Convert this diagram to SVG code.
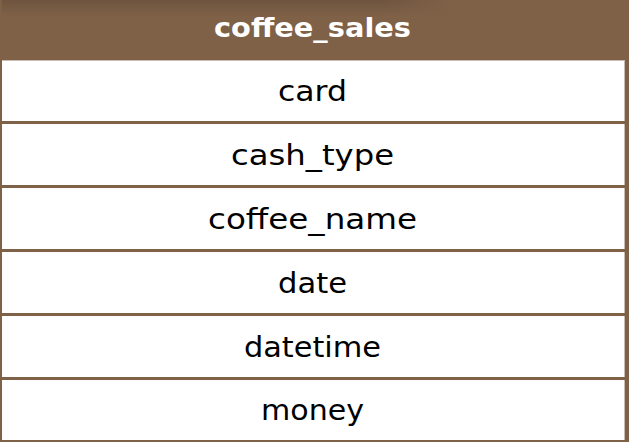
<svg xmlns="http://www.w3.org/2000/svg" width="629" height="442" viewBox="0 0 629 442">
  <style>
    .brown { fill: #7f6148; }
    .title { font-family: "DejaVu Sans", "Noto Sans", sans-serif; font-weight: bold; font-size: 27px; fill: #ffffff; text-anchor: middle; }
    .field { font-family: "DejaVu Sans", "Noto Sans", sans-serif; font-size: 29px; fill: #000000; text-anchor: middle; }
  </style>
  <defs>
    <linearGradient id="shadeV" x1="0" y1="0" x2="0" y2="1">
      <stop offset="0" stop-color="#5f4836" stop-opacity="0.5"/>
      <stop offset="1" stop-color="#5f4836" stop-opacity="0"/>
    </linearGradient>
    <linearGradient id="shadeH" x1="0" y1="0" x2="1" y2="0">
      <stop offset="0" stop-color="#fff" stop-opacity="1"/>
      <stop offset="0.85" stop-color="#fff" stop-opacity="1"/>
      <stop offset="1" stop-color="#fff" stop-opacity="0"/>
    </linearGradient>
    <mask id="fadeMask">
      <rect x="0" y="0" width="450" height="20" fill="url(#shadeH)"/>
    </mask>
  </defs>
  <rect x="0" y="0" width="629" height="442" fill="#ffffff"/>
  <g id="coffee_sales">
    <rect class="brown" x="0" y="0" width="629" height="60"/>
    <rect x="0" y="0" width="450" height="16" fill="url(#shadeV)" mask="url(#fadeMask)"/>
    <rect x="0" y="60" width="625" height="1" fill="#c9bdb1"/>
    <text class="title" x="312.5" y="37" textLength="197" lengthAdjust="spacingAndGlyphs">coffee_sales</text>
    <rect class="brown" x="0" y="0" width="2" height="442"/>
    <rect class="brown" x="625" y="0" width="4" height="442"/>
    <rect x="624" y="60" width="1" height="382" fill="#c9bdb1"/>
    <rect class="brown" x="0" y="440" width="629" height="2"/>
    <g id="row-card">
      <text class="field" x="312.5" y="100.5" textLength="69" lengthAdjust="spacingAndGlyphs">card</text>
    </g>
    <rect class="brown" x="0" y="121" width="629" height="3"/>
    <g id="row-cash_type">
      <text class="field" x="312.5" y="165" textLength="163" lengthAdjust="spacingAndGlyphs">cash_type</text>
    </g>
    <rect class="brown" x="0" y="185" width="629" height="3"/>
    <g id="row-coffee_name">
      <text class="field" x="312.5" y="228.5" textLength="209" lengthAdjust="spacingAndGlyphs">coffee_name</text>
    </g>
    <rect class="brown" x="0" y="249" width="629" height="3"/>
    <g id="row-date">
      <text class="field" x="312.5" y="292.5" textLength="69" lengthAdjust="spacingAndGlyphs">date</text>
    </g>
    <rect class="brown" x="0" y="313" width="629" height="3"/>
    <g id="row-datetime">
      <text class="field" x="312.5" y="357" textLength="137" lengthAdjust="spacingAndGlyphs">datetime</text>
    </g>
    <rect class="brown" x="0" y="377" width="629" height="3"/>
    <g id="row-money">
      <text class="field" x="312.5" y="420" textLength="103" lengthAdjust="spacingAndGlyphs">money</text>
    </g>
  </g>
  <g id="connectors"></g>
</svg>
